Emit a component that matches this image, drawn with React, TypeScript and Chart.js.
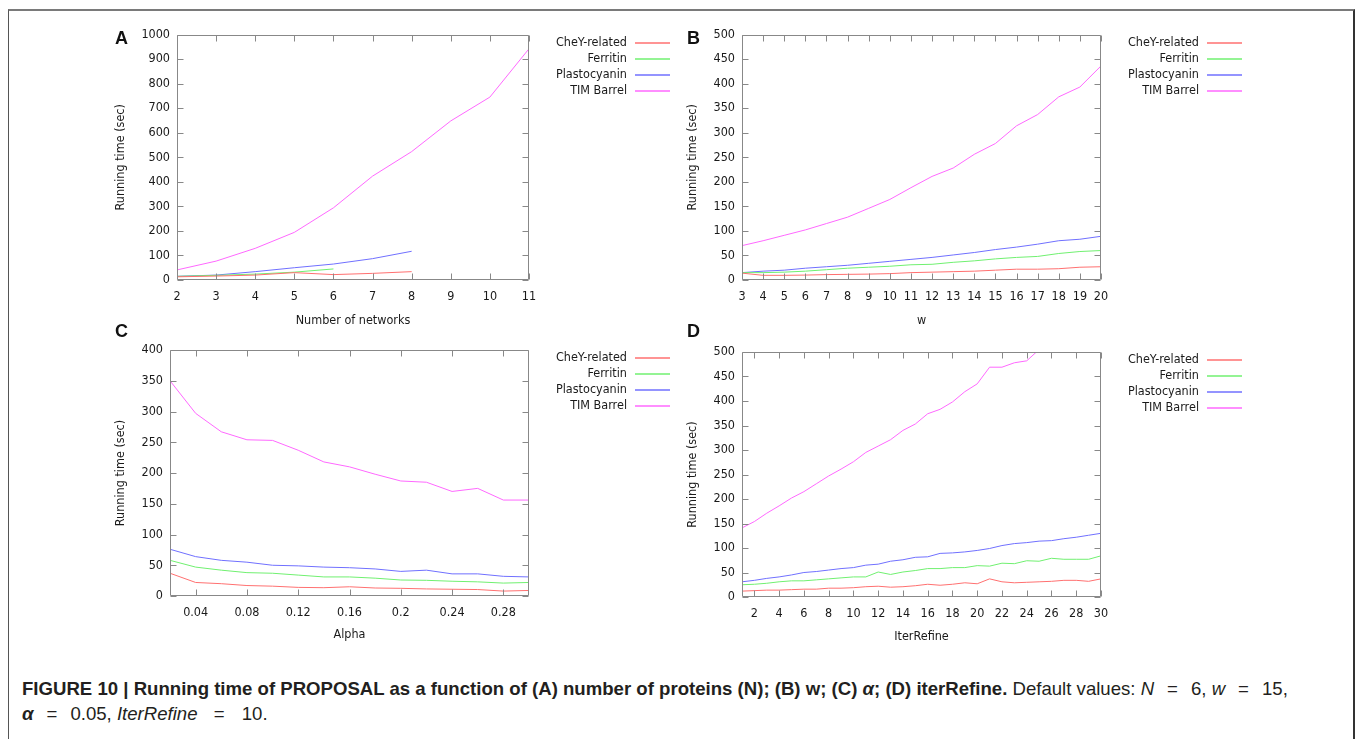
import React, { useEffect, useRef } from "react";
import { Chart, registerables } from "chart.js";

Chart.register(...registerables);

const SERIES_NAMES = ["CheY-related", "Ferritin", "Plastocyanin", "TIM Barrel"];
const SERIES_COLORS = ["rgb(255,112,112)", "rgb(112,240,112)", "rgb(112,112,255)", "rgb(255,104,255)"];

// Panel A: number of networks
const xA = [2, 3, 4, 5, 6, 7, 8, 9, 10, 11];
const cheyA = [13, 16, 20, 30, 22, 27, 34];
const ferritinA = [15, 19, 24, 32, 45];
const plastoA = [15, 20, 34, 50, 65, 87, 117];
const timA = [41, 77, 129, 194, 294, 423, 523, 648, 745, 942];
const xTicksA = [2, 3, 4, 5, 6, 7, 8, 9, 10, 11];
const yTicksA = [0, 100, 200, 300, 400, 500, 600, 700, 800, 900, 1000];

// Panel B: w
const xB = [3, 4, 5, 6, 7, 8, 9, 10, 11, 12, 13, 14, 15, 16, 17, 18, 19, 20];
const cheyB = [14, 9.5, 9.5, 10, 11, 11.5, 12, 13, 15, 16, 17, 18, 20, 22, 22, 23, 26, 27];
const ferritinB = [15, 15, 16, 18, 21, 24, 26, 28, 31, 32, 36, 39, 43, 46, 48, 54, 58, 60];
const plastoB = [15, 18, 20, 24, 27, 30, 34, 38, 42, 46, 51, 56, 62, 67, 73, 80, 83, 89];
const timB = [70, 80, 91, 102, 115, 128, 146, 164, 188, 211, 228, 256, 278, 314, 337, 373, 393, 436];
const xTicksB = [3, 4, 5, 6, 7, 8, 9, 10, 11, 12, 13, 14, 15, 16, 17, 18, 19, 20];
const yTicksB = [0, 50, 100, 150, 200, 250, 300, 350, 400, 450, 500];

// Panel C: alpha
const xC = [0.02, 0.04, 0.06, 0.08, 0.1, 0.12, 0.14, 0.16, 0.18, 0.2, 0.22, 0.24, 0.26, 0.28, 0.3];
const cheyC = [37, 22, 20, 17, 16, 14, 13.5, 15, 13, 12.5, 11.5, 11, 10.5, 8, 9];
const ferritinC = [58, 47, 42, 38, 37, 34, 31, 31, 29, 26, 25.5, 24, 23, 21, 22];
const plastoC = [76, 64, 58, 55, 50, 49, 47, 46, 44, 40, 42, 36, 36, 32, 31];
const timC = [350, 297, 267, 254, 253, 237, 218, 210, 198, 187, 185, 170, 175, 156, 156];
const xTicksC = [0.04, 0.08, 0.12, 0.16, 0.2, 0.24, 0.28];
const yTicksC = [0, 50, 100, 150, 200, 250, 300, 350, 400];

// Panel D: IterRefine
const xD = [1, 2, 3, 4, 5, 6, 7, 8, 9, 10, 11, 12, 13, 14, 15, 16, 17, 18, 19, 20, 21, 22, 23, 24, 25, 26, 27, 28, 29, 30];
const cheyD = [12, 13, 14, 14, 15, 16, 16, 18, 18, 19, 21, 22, 20, 21, 23, 26, 24, 26, 29, 27, 37, 31, 29, 30, 31, 32, 34, 34, 32, 37];
const ferritinD = [25, 26, 28, 31, 33, 33, 35, 37, 39, 41, 41, 51, 46, 51, 54, 58, 58, 60, 60, 64, 63, 69, 68, 74, 73, 79, 77, 77, 77, 84];
const plastoD = [31, 34, 38, 41, 45, 50, 52, 55, 58, 60, 65, 67, 73, 76, 81, 82, 89, 90, 92, 95, 99, 105, 109, 111, 114, 115, 119, 122, 126, 130];
const timD = [141, 154, 171, 186, 202, 215, 231, 247, 261, 276, 295, 308, 321, 340, 353, 374, 383, 398, 419, 435, 469, 469, 478, 482, 505];
const xTicksD = [2, 4, 6, 8, 10, 12, 14, 16, 18, 20, 22, 24, 26, 28, 30];
const yTicksD = [0, 50, 100, 150, 200, 250, 300, 350, 400, 450, 500];

const AXIS_FONT = '"DejaVu Sans Condensed", "DejaVu Sans", sans-serif';
const TEXT_COLOR = "#1a1a1a";
const FRAME_COLOR = "#888888";

const fmt = (v: number) => String(Number(v.toFixed(2)));

const framePlugin = {
  id: "gpFrame",
  afterDatasetsDraw(chart: any) {
    const { ctx, chartArea } = chart;
    const { left, top, right, bottom } = chartArea;
    const xs = chart.scales.x;
    const ys = chart.scales.y;
    ctx.save();
    ctx.strokeStyle = FRAME_COLOR;
    ctx.lineWidth = 1;
    ctx.beginPath();
    const L = Math.round(left) + 0.5;
    const R = Math.round(right) - 0.5;
    const T = Math.round(top) + 0.5;
    const B = Math.round(bottom) - 0.5;
    ctx.rect(L, T, R - L, B - T);
    const tl = 6;
    ys.ticks.forEach((t: any) => {
      const py = Math.round(ys.getPixelForValue(t.value)) + 0.5;
      ctx.moveTo(L, py);
      ctx.lineTo(L + tl, py);
      ctx.moveTo(R, py);
      ctx.lineTo(R - tl, py);
    });
    xs.ticks.forEach((t: any) => {
      const px = Math.round(xs.getPixelForValue(t.value)) + 0.5;
      ctx.moveTo(px, B);
      ctx.lineTo(px, B - tl);
      ctx.moveTo(px, T);
      ctx.lineTo(px, T + tl);
    });
    ctx.stroke();
    ctx.restore();
  },
};

const keyPlugin = {
  id: "gpKey",
  afterDraw(chart: any) {
    const { ctx, chartArea, data } = chart;
    const { right, top } = chartArea;
    ctx.save();
    ctx.font = `12.5px ${AXIS_FONT}`;
    ctx.textAlign = "right";
    ctx.textBaseline = "middle";
    data.datasets.forEach((ds: any, i: number) => {
      const y = Math.round(top + 8 + i * 16);
      ctx.fillStyle = TEXT_COLOR;
      ctx.fillText(ds.label, right + 98, y);
      ctx.strokeStyle = ds.borderColor;
      ctx.lineWidth = 1.4;
      ctx.beginPath();
      ctx.moveTo(Math.round(right + 106), y);
      ctx.lineTo(Math.round(right + 141), y);
      ctx.stroke();
    });
    ctx.restore();
  },
};

type PanelCfg = {
  cx: number; cy: number; cw: number; ch: number;
  l: number; t: number; r: number; b: number;
  xh: number; ytitleX: number;
  xs: number[]; series: number[][];
  xMin: number; xMax: number; xTicks: number[];
  yMax: number; yTicks: number[];
  xTitle: string;
};

const panels: PanelCfg[] = [
  {
    cx: 100, cy: 20, cw: 575, ch: 320, l: 177, t: 34, r: 529, b: 280, xh: 50, ytitleX: 121,
    xs: xA, series: [cheyA, ferritinA, plastoA, timA], xMin: 2, xMax: 11, xTicks: xTicksA,
    yMax: 1000, yTicks: yTicksA, xTitle: "Number of networks",
  },
  {
    cx: 675, cy: 20, cw: 600, ch: 320, l: 742, t: 34, r: 1101, b: 280, xh: 50, ytitleX: 692.7,
    xs: xB, series: [cheyB, ferritinB, plastoB, timB], xMin: 3, xMax: 20, xTicks: xTicksB,
    yMax: 500, yTicks: yTicksB, xTitle: "w",
  },
  {
    cx: 100, cy: 335, cw: 575, ch: 320, l: 170, t: 350, r: 529, b: 596, xh: 48, ytitleX: 121,
    xs: xC, series: [cheyC, ferritinC, plastoC, timC], xMin: 0.02, xMax: 0.3, xTicks: xTicksC,
    yMax: 400, yTicks: yTicksC, xTitle: "Alpha",
  },
  {
    cx: 675, cy: 335, cw: 600, ch: 320, l: 742, t: 352, r: 1101, b: 597, xh: 49, ytitleX: 692.7,
    xs: xD, series: [cheyD, ferritinD, plastoD, timD], xMin: 1, xMax: 30, xTicks: xTicksD,
    yMax: 500, yTicks: yTicksD, xTitle: "IterRefine",
  },
];

function Panel({ cfg }: { cfg: PanelCfg }) {
  const ref = useRef<HTMLCanvasElement>(null);
  useEffect(() => {
    const yw = cfg.l - cfg.cx;
    const padTop = cfg.t - cfg.cy;
    const padRight = cfg.cx + cfg.cw - cfg.r;
    const padBottom = cfg.cy + cfg.ch - cfg.b - cfg.xh;
    const font = { family: AXIS_FONT, size: 12.5 };
    const chart = new Chart(ref.current as HTMLCanvasElement, {
      type: "line",
      data: {
        datasets: cfg.series.map((vals, i) => ({
          label: SERIES_NAMES[i],
          data: vals.map((v, j) => ({ x: cfg.xs[j], y: v })),
          borderColor: SERIES_COLORS[i],
          backgroundColor: SERIES_COLORS[i],
          borderWidth: 1,
          pointRadius: 0,
          tension: 0,
          fill: false,
        })),
      },
      options: {
        animation: false,
        responsive: false,
        maintainAspectRatio: false,
        devicePixelRatio: 1,
        layout: { padding: { left: 0, top: padTop, right: padRight, bottom: padBottom } },
        plugins: { legend: { display: false }, tooltip: { enabled: false } },
        events: [],
        scales: {
          x: {
            type: "linear",
            min: cfg.xMin,
            max: cfg.xMax,
            afterBuildTicks: (s: any) => { s.ticks = cfg.xTicks.map((v) => ({ value: v })); },
            afterFit: (s: any) => { s.height = cfg.xh; },
            grid: { display: false, drawTicks: false, tickLength: 0 },
            border: { display: false },
            ticks: { autoSkip: false, maxRotation: 0, padding: 9, color: TEXT_COLOR, font, callback: (v: any) => fmt(Number(v)) },
            title: { display: true, text: cfg.xTitle, color: TEXT_COLOR, font, padding: { top: 0, bottom: 2 } },
          },
          y: {
            type: "linear",
            min: 0,
            max: cfg.yMax,
            afterBuildTicks: (s: any) => { s.ticks = cfg.yTicks.map((v) => ({ value: v })); },
            afterFit: (s: any) => { s.width = yw; },
            grid: { display: false, drawTicks: false, tickLength: 0 },
            border: { display: false },
            ticks: { autoSkip: false, padding: 7, color: TEXT_COLOR, font, callback: (v: any) => fmt(Number(v)) },
            title: { display: true, text: "Running time (sec)", color: TEXT_COLOR, font, padding: { top: cfg.ytitleX - cfg.cx - 7.5, bottom: 0 } },
          },
        },
      } as any,
      plugins: [framePlugin, keyPlugin],
    });
    return () => chart.destroy();
  }, []);
  return (
    <canvas
      ref={ref}
      width={cfg.cw}
      height={cfg.ch}
      style={{ position: "absolute", left: cfg.cx, top: cfg.cy, width: cfg.cw, height: cfg.ch }}
    />
  );
}

const letterStyle = (left: number, top: number): React.CSSProperties => ({
  position: "absolute",
  left,
  top,
  font: 'bold 18px "Liberation Sans", Arial, sans-serif',
  lineHeight: "18px",
  color: "#111",
});

const Eq = () => <span style={{ padding: "0 13px" }}>=</span>;

export default function App() {
  return (
    <div style={{ position: "absolute", left: 0, top: 0, width: 1355, height: 739, background: "#fff", overflow: "hidden" }}>
      <div
        style={{
          position: "absolute", left: 8, top: 9, width: 1344, height: 760,
          borderTop: "2px solid #7a7a7a", borderLeft: "1px solid #555", borderRight: "2px solid #333",
        }}
      />
      {panels.map((p, i) => (
        <Panel key={i} cfg={p} />
      ))}
      <div style={letterStyle(115, 29)}>A</div>
      <div style={letterStyle(687, 29)}>B</div>
      <div style={letterStyle(115, 322)}>C</div>
      <div style={letterStyle(687, 322)}>D</div>
      <div
        style={{
          position: "absolute", left: 22, top: 676, width: 1320, whiteSpace: "nowrap",
          font: '18.6px "Liberation Sans", Arial, sans-serif', lineHeight: "25px", color: "#231f20",
        }}
      >
        <b>
          FIGURE 10 | Running time of PROPOSAL as a function of (A) number of proteins (N); (B) w; (C) <i>α</i>; (D) iterRefine.
        </b>{" "}
        Default values: <i>N</i><Eq />6, <i>w</i><Eq />15,
        <br />
        <b><i>α</i></b><Eq />0.05, <i>IterRefine</i>{" "}<span style={{ padding: "0 12px 0 11px" }}>=</span>{" "}10.
      </div>
    </div>
  );
}
